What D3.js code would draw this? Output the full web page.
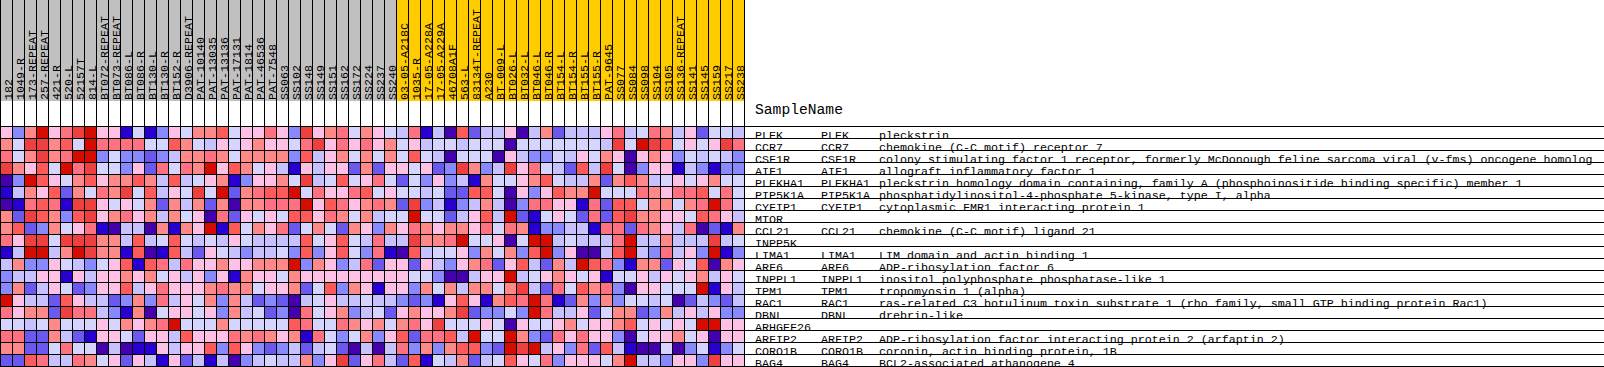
<!DOCTYPE html>
<html>
<head>
<meta charset="utf-8">
<script src="https://cdn.jsdelivr.net/npm/d3@7"></script>
<style>
html, body { margin: 0; padding: 0; background: #fff; overflow: hidden; }
svg { display: block; }
text { font-family: "Liberation Mono", monospace; font-size: 11.67px; fill: #000; }
</style>
</head>
<body>
<svg width="1604" height="367"></svg>
<script>
const graySamples = ["182","1049-R","173-REPEAT","257-REPEAT","421-R","520-L","52157T","814-L","BT072-REPEAT","BT073-REPEAT","BT086-L","BT086-R","BT130-L","BT130-R","BT152-R","D3906-REPEAT","PAT-10140","PAT-13035","PAT-13136","PAT-17131","PAT-1814","PAT-46536","PAT-7548","SS063","SS102","SS148","SS149","SS151","SS162","SS172","SS224","SS237","SS240"];
const orangeSamples = ["03-05-A218C","1035-R","17-05-A228A","17-05-A229A","46708A1F","563-L","83134T-REPEAT","A230","BT-009-L","BT026-L","BT032-L","BT046-L","BT046-R","BT154-L","BT154-R","BT155-L","BT155-R","PAT-9645","SS077","SS084","SS098","SS104","SS105","SS136-REPEAT","SS141","SS145","SS159","SS217","SS238"];

const genes = ["PLEK","CCR7","CSF1R","AIF1","PLEKHA1","PIP5K1A","CYFIP1","MTOR","CCL21","INPP5K","LIMA1","ARF6","INPPL1","TPM1","RAC1","DBNL","ARHGEF26","ARFIP2","CORO1B","BAG4"];
const symbols = ["PLEK","CCR7","CSF1R","AIF1","PLEKHA1","PIP5K1A","CYFIP1","","CCL21","","LIMA1","ARF6","INPPL1","TPM1","RAC1","DBNL","","ARFIP2","CORO1B","BAG4"];
const descriptions = [
    "pleckstrin",
    "chemokine (C-C motif) receptor 7",
    "colony stimulating factor 1 receptor, formerly McDonough feline sarcoma viral (v-fms) oncogene homolog",
    "allograft inflammatory factor 1",
    "pleckstrin homology domain containing, family A (phosphoinositide binding specific) member 1",
    "phosphatidylinositol-4-phosphate 5-kinase, type I, alpha",
    "cytoplasmic FMR1 interacting protein 1",
    "",
    "chemokine (C-C motif) ligand 21",
    "",
    "LIM domain and actin binding 1",
    "ADP-ribosylation factor 6",
    "inositol polyphosphate phosphatase-like 1",
    "tropomyosin 1 (alpha)",
    "ras-related C3 botulinum toxin substrate 1 (rho family, small GTP binding protein Rac1)",
    "drebrin-like",
    "",
    "ADP-ribosylation factor interacting protein 2 (arfaptin 2)",
    "coronin, actin binding protein, 1B",
    "BCL2-associated athanogene 4"
];

// colour level of each cell, 0 = lowest, 11 = highest
const levels = [
    [6,3,7,11,6,8,10,11,6,6,1,5,1,3,6,5,7,7,9,5, 6,6,8,6,3,10,6,7,8,5,7,6,5,4,8,1,4,0,9,2,4, 4,6,0,4,7,2,4,4,4,6,8,4,5,8,7,4,6,2,5,5,4],
    [7,5,10,10,7,9,5,11,8,8,8,8,5,5,9,7,5,4,6,5, 6,7,6,6,5,8,10,6,8,6,8,6,7,5,6,4,5,5,4,5,5, 5,0,5,5,5,5,5,5,5,4,10,5,11,10,9,5,6,5,6,10,8],
    [8,5,7,10,7,8,11,11,3,5,3,3,2,3,4,7,7,8,7,5, 7,7,7,7,3,9,4,6,7,5,7,5,7,5,9,5,4,0,5,5,5, 0,6,4,3,3,5,4,6,5,7,6,0,6,7,6,3,5,4,5,4,3],
    [10,7,6,9,5,11,8,10,5,5,3,6,2,8,5,8,7,11,6,9, 7,5,6,4,1,6,4,6,6,2,7,2,6,6,5,6,2,3,10,7,3, 4,10,6,8,5,4,2,9,4,10,5,0,3,6,6,1,4,3,1,3,3],
    [0,3,11,9,6,5,7,9,6,7,7,9,7,4,9,4,5,6,7,1, 3,6,6,7,5,10,4,5,9,5,6,8,5,2,5,3,6,3,4,1,7, 5,5,6,7,9,5,4,4,7,2,7,9,7,4,5,6,5,6,7,5,5],
    [1,4,7,6,9,2,7,5,8,7,10,5,9,4,6,5,10,5,11,2, 7,8,9,9,11,5,8,6,6,8,9,5,6,5,5,4,5,2,2,9,9, 5,0,6,3,6,9,7,7,11,5,5,5,8,7,6,8,8,9,5,8,5],
    [0,1,8,9,8,1,10,10,6,5,6,5,7,2,7,4,7,2,7,0, 7,7,8,8,8,11,6,9,8,6,7,8,7,2,10,3,4,1,3,4,7, 4,0,3,8,8,6,6,1,8,2,9,9,5,7,7,5,7,8,11,8,5],
    [7,2,10,9,7,3,9,10,6,7,8,6,7,4,7,5,6,0,8,2, 6,5,6,5,9,9,6,8,7,5,7,4,5,5,11,5,5,2,4,6,9, 4,11,2,1,5,6,5,2,8,2,9,10,7,7,6,6,5,9,8,6,4],
    [7,9,2,3,7,5,6,8,1,0,4,4,0,7,1,7,6,11,1,9, 5,7,6,8,2,5,7,5,2,7,6,3,7,6,8,7,6,7,7,6,8, 5,8,7,1,3,3,4,4,1,8,8,2,8,7,6,4,8,0,2,1,7],
    [8,6,10,10,5,10,10,10,7,7,4,9,4,5,9,5,4,5,4,6, 5,4,4,4,4,9,5,6,9,5,4,8,4,4,10,7,7,8,11,5,5, 6,0,5,11,11,4,5,4,4,4,8,11,4,4,7,4,4,4,10,4,5],
    [1,4,11,11,4,7,11,10,7,7,1,9,0,1,9,4,2,6,5,4, 3,4,4,5,3,9,3,6,9,5,3,8,1,0,9,4,5,5,6,3,7, 5,7,3,9,11,3,6,0,0,4,9,11,4,3,8,4,6,3,11,1,3],
    [4,7,3,3,6,5,4,3,5,6,9,1,9,8,4,8,6,6,7,6, 6,7,7,7,11,3,7,6,3,4,8,2,6,6,2,6,4,3,6,7,8, 2,6,9,4,2,7,4,11,9,8,3,1,7,7,2,6,5,9,0,7,6],
    [3,4,4,6,6,1,6,4,6,6,7,6,7,5,6,4,6,3,6,1, 7,6,6,5,7,6,6,6,6,6,6,6,6,6,5,5,3,0,0,4,6, 6,11,4,5,6,7,6,5,6,1,5,5,6,4,6,5,6,7,4,6,5],
    [3,7,2,4,6,5,2,3,6,6,9,4,6,8,6,6,6,7,8,7, 7,5,6,6,7,2,5,9,3,7,6,1,6,6,3,7,5,7,4,7,7, 5,7,10,4,2,8,5,9,7,8,3,0,6,6,5,5,5,11,1,6,4],
    [11,6,4,4,2,9,6,4,4,2,3,7,3,8,4,6,5,7,3,7, 4,2,3,2,0,4,5,6,4,4,5,4,4,3,2,3,1,6,9,6,1, 7,9,8,11,8,1,2,7,3,7,3,5,5,4,5,0,2,4,3,2,4],
    [8,6,7,7,2,10,8,8,4,3,1,7,0,5,6,6,5,6,3,7, 4,5,2,3,0,8,5,6,7,3,4,5,2,6,7,6,6,7,10,2,3, 3,5,3,11,8,4,4,6,2,5,7,7,2,3,7,4,6,4,6,3,3],
    [5,5,4,5,7,5,5,5,6,5,7,6,7,8,11,5,5,5,7,5, 5,5,5,5,9,8,5,5,8,7,6,7,5,7,8,6,10,5,5,5,6, 5,0,6,5,5,6,7,5,6,6,7,9,5,6,5,6,5,11,11,6,6],
    [8,8,2,2,7,4,2,1,6,6,5,2,6,6,4,9,6,6,6,8, 7,8,7,6,7,1,8,5,3,5,7,3,6,9,2,8,8,9,4,11,5, 5,11,7,3,2,8,6,8,6,6,3,0,5,6,6,7,5,6,0,6,6],
    [7,7,2,2,5,8,5,5,0,4,0,1,1,6,4,6,6,9,3,9, 6,3,2,3,4,2,4,5,2,0,4,0,4,8,3,7,3,7,9,9,3, 2,11,10,11,4,6,3,8,2,9,4,1,0,0,5,0,3,5,1,3,5],
    [2,2,9,8,4,4,8,7,5,6,2,6,4,1,6,2,4,1,4,0, 3,4,5,4,4,7,3,6,10,2,6,8,4,2,9,1,5,4,7,2,4, 5,9,6,5,8,3,6,6,6,5,7,11,4,4,3,6,6,3,10,6,6]
];

const palette = ["#4500ad","#2700d1","#6b58ef","#8888ff","#c7c1ff","#d5d5ff","#ffc0e5","#ff8989","#ff7080","#ff5a5a","#ef4040","#d60c00"];

const samples = graySamples.concat(orangeSamples);
const svg = d3.select("svg");

const x = d3.scaleBand().domain(samples).range([0, 12*samples.length]);
const y = d3.scaleBand().domain(genes).range([126, 126 + 12*genes.length]);
const color = d3.scaleOrdinal().domain(d3.range(palette.length)).range(palette);

// header blocks
svg.append("g").selectAll("rect")
    .data(samples)
    .join("rect")
    .attr("x", d => x(d))
    .attr("y", 0)
    .attr("width", x.bandwidth())
    .attr("height", 101)
    .attr("fill", d => graySamples.includes(d) ? "#c0c0c0" : "#ffcc00");

// cells
svg.append("g").selectAll("g")
    .data(levels)
    .join("g")
    .attr("transform", (d, i) => "translate(0," + y(genes[i]) + ")")
    .selectAll("rect")
    .data(d => d)
    .join("rect")
    .attr("x", (d, i) => x(samples[i]))
    .attr("width", x.bandwidth())
    .attr("height", y.bandwidth())
    .attr("fill", d => color(d));

// sample labels, rotated, baseline on the column's right edge
svg.append("g").selectAll("text")
    .data(samples)
    .join("text")
    .attr("transform", d => "translate(" + (x(d) + 12) + ",100) rotate(-90)")
    .text(d => d);

// grid
svg.append("g").selectAll("line")
    .data(d3.range(samples.length + 1))
    .join("line")
    .attr("x1", i => i*x.bandwidth() + 0.5)
    .attr("x2", i => i*x.bandwidth() + 0.5)
    .attr("y1", 0)
    .attr("y2", 367)
    .attr("stroke", "#000");

// row text, sits on the rule below it
const rowText = svg.append("g").selectAll("g")
    .data(genes)
    .join("g")
    .attr("transform", d => "translate(0," + (y(d) + y.bandwidth() + 0.5) + ")");
rowText.append("text").attr("x", 755).text(d => d);
rowText.append("text").attr("x", 821).text((d, i) => symbols[i]);
rowText.append("text").attr("x", 879).text((d, i) => descriptions[i]);

svg.append("g").selectAll("line")
    .data(d3.range(genes.length + 1))
    .join("line")
    .attr("x1", 0)
    .attr("x2", 1604)
    .attr("y1", i => 126 + i*y.bandwidth() + 0.5)
    .attr("y2", i => 126 + i*y.bandwidth() + 0.5)
    .attr("stroke", "#000");

svg.append("text")
    .attr("x", 755)
    .attr("y", 114)
    .style("font-size", "14.67px")
    .text("SampleName");
</script>
</body>
</html>
